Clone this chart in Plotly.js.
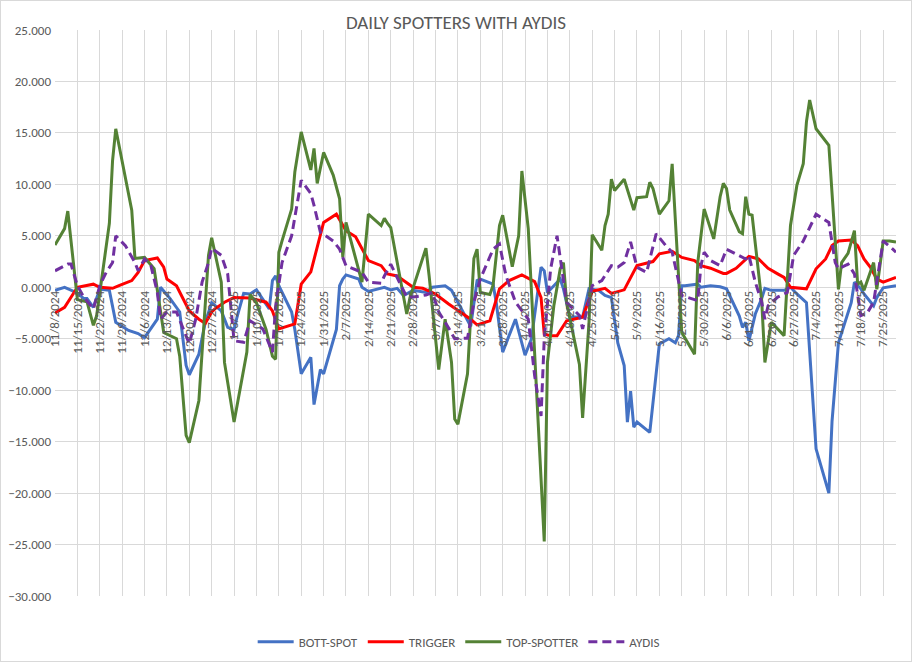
<!DOCTYPE html>
<html><head><meta charset="utf-8">
<script src="https://cdn.plot.ly/plotly-3.0.1.min.js"></script>
<style>html,body{margin:0;padding:0;background:#fff}#chart{width:912px;height:662px;box-sizing:border-box;border:1px solid #d9d9d9}</style>
</head><body><div id="chart"></div><script>
const seriesNames = ['BOTT-SPOT','TRIGGER','TOP-SPOTTER','AYDIS'];

const bottDates = ['2024-11-08','2024-11-11','2024-11-15','2024-11-17','2024-11-18','2024-11-20','2024-11-22','2024-11-25','2024-11-27','2024-11-28','2024-12-01','2024-12-04','2024-12-06','2024-12-10','2024-12-11','2024-12-14','2024-12-17','2024-12-19','2024-12-20','2024-12-23','2024-12-25','2024-12-27','2024-12-30','2025-01-01','2025-01-03','2025-01-04','2025-01-06','2025-01-08','2025-01-10','2025-01-14','2025-01-15','2025-01-16','2025-01-17','2025-01-21','2025-01-22','2025-01-24','2025-01-27','2025-01-28','2025-01-30','2025-01-31','2025-02-04','2025-02-05','2025-02-06','2025-02-07','2025-02-11','2025-02-12','2025-02-14','2025-02-19','2025-02-21','2025-02-23','2025-02-25','2025-02-28','2025-03-04','2025-03-06','2025-03-10','2025-03-12','2025-03-14','2025-03-18','2025-03-20','2025-03-21','2025-03-25','2025-03-26','2025-03-28','2025-04-01','2025-04-04','2025-04-06','2025-04-09','2025-04-10','2025-04-11','2025-04-15','2025-04-16','2025-04-18','2025-04-22','2025-04-23','2025-04-24','2025-04-27','2025-04-29','2025-05-01','2025-05-03','2025-05-05','2025-05-06','2025-05-07','2025-05-08','2025-05-09','2025-05-13','2025-05-16','2025-05-19','2025-05-21','2025-05-22','2025-05-23','2025-05-24','2025-05-28','2025-05-29','2025-06-01','2025-06-04','2025-06-06','2025-06-08','2025-06-10','2025-06-11','2025-06-12','2025-06-13','2025-06-15','2025-06-17','2025-06-18','2025-06-20','2025-06-24','2025-06-26','2025-06-28','2025-07-01','2025-07-02','2025-07-04','2025-07-08','2025-07-09','2025-07-11','2025-07-13','2025-07-15','2025-07-16','2025-07-18','2025-07-19','2025-07-22','2025-07-23','2025-07-25','2025-07-29'];
const bottValues = [-0.3,0.0,-0.55,-1.1,-1.1,-1.95,-0.2,-0.3,-3.4,-3.6,-4.2,-4.5,-4.9,-3.1,0.0,-1.1,-2.4,-7.6,-8.5,-6.5,-3.4,-1.5,-2.3,-3.9,-4.1,-2.8,-0.6,-0.65,-0.25,-2.1,0.65,1.1,0.15,-2.4,-4.1,-8.4,-6.8,-11.4,-8.0,-8.4,-4.1,0.15,0.8,1.2,0.8,0.0,-0.4,0.0,-0.25,-0.1,-0.8,-0.3,-0.5,0.0,0.15,-0.3,-1.5,-3.8,0.65,0.8,0.3,-1.5,-6.3,-3.1,-6.6,-5.0,1.95,1.6,-0.5,0.8,-0.15,-2.9,-2.9,-1.5,-0.15,-0.3,-0.8,-1.0,-5.4,-7.6,-13.1,-10.1,-13.6,-13.1,-14.1,-5.5,-5.0,-5.4,-4.7,0.15,0.15,0.3,0.0,0.15,0.05,-0.15,-1.5,-2.8,-3.9,-3.4,-5.2,-2.6,-1.1,-0.1,-0.3,-0.3,0.0,-0.65,-1.5,-6.3,-15.7,-20.0,-13.0,-5.4,-3.4,-1.5,0.5,-0.15,-0.65,-1.8,-1.0,-0.05,0.15];

const trigDates = ['2024-11-08','2024-11-11','2024-11-15','2024-11-17','2024-11-20','2024-11-22','2024-11-26','2024-11-28','2024-12-02','2024-12-04','2024-12-06','2024-12-10','2024-12-12','2024-12-13','2024-12-16','2024-12-20','2024-12-23','2024-12-25','2024-12-27','2024-12-28','2024-12-31','2025-01-03','2025-01-08','2025-01-13','2025-01-15','2025-01-17','2025-01-22','2025-01-24','2025-01-27','2025-01-31','2025-02-04','2025-02-07','2025-02-10','2025-02-14','2025-02-18','2025-02-20','2025-02-23','2025-02-25','2025-02-28','2025-03-03','2025-03-07','2025-03-11','2025-03-15','2025-03-18','2025-03-20','2025-03-24','2025-03-27','2025-03-30','2025-04-03','2025-04-07','2025-04-09','2025-04-10','2025-04-12','2025-04-14','2025-04-17','2025-04-19','2025-04-22','2025-04-25','2025-04-29','2025-05-01','2025-05-05','2025-05-09','2025-05-14','2025-05-16','2025-05-20','2025-05-23','2025-05-27','2025-05-29','2025-06-01','2025-06-05','2025-06-06','2025-06-09','2025-06-13','2025-06-16','2025-06-19','2025-06-22','2025-06-24','2025-06-26','2025-07-01','2025-07-04','2025-07-07','2025-07-09','2025-07-11','2025-07-15','2025-07-17','2025-07-19','2025-07-21','2025-07-23','2025-07-25','2025-07-29'];
const trigValues = [-2.5,-1.95,0.0,0.15,0.3,0.0,-0.1,0.15,0.65,1.45,2.6,2.85,1.95,0.8,0.15,-2.3,-3.1,-3.5,-2.4,-2.1,-1.45,-1.0,-1.05,-1.45,-2.3,-4.05,-3.55,0.3,1.5,6.3,7.1,5.5,4.9,2.6,2.1,1.3,1.1,0.65,0.0,-0.1,-0.65,-1.6,-2.5,-3.1,-3.65,-3.25,-0.15,0.65,1.2,0.55,-1.0,-4.55,-4.7,-4.7,-3.25,-3.1,-2.9,-0.4,-0.1,-0.6,-0.25,2.1,2.5,3.25,3.5,2.9,2.6,2.1,1.85,1.35,1.35,1.85,3.0,2.75,1.85,1.3,0.95,0.0,-0.15,1.8,2.75,4.05,4.5,4.6,4.05,2.75,1.95,0.8,0.5,0.95];

const topDates = ['2024-11-08','2024-11-11','2024-11-12','2024-11-15','2024-11-18','2024-11-20','2024-11-21','2024-11-25','2024-11-26','2024-11-27','2024-12-02','2024-12-03','2024-12-06','2024-12-09','2024-12-12','2024-12-16','2024-12-17','2024-12-19','2024-12-20','2024-12-23','2024-12-26','2024-12-27','2024-12-30','2024-12-31','2025-01-03','2025-01-07','2025-01-08','2025-01-10','2025-01-13','2025-01-15','2025-01-16','2025-01-17','2025-01-18','2025-01-21','2025-01-22','2025-01-24','2025-01-27','2025-01-28','2025-01-29','2025-01-31','2025-02-03','2025-02-05','2025-02-06','2025-02-07','2025-02-12','2025-02-14','2025-02-18','2025-02-19','2025-02-20','2025-02-21','2025-02-26','2025-02-27','2025-03-04','2025-03-05','2025-03-08','2025-03-10','2025-03-12','2025-03-13','2025-03-14','2025-03-17','2025-03-19','2025-03-20','2025-03-21','2025-03-24','2025-03-25','2025-03-27','2025-03-28','2025-03-31','2025-04-02','2025-04-03','2025-04-05','2025-04-10','2025-04-11','2025-04-13','2025-04-15','2025-04-16','2025-04-17','2025-04-21','2025-04-22','2025-04-24','2025-04-25','2025-04-28','2025-04-29','2025-04-30','2025-05-01','2025-05-02','2025-05-05','2025-05-08','2025-05-09','2025-05-12','2025-05-13','2025-05-14','2025-05-16','2025-05-19','2025-05-20','2025-05-23','2025-05-27','2025-05-28','2025-05-30','2025-06-01','2025-06-02','2025-06-04','2025-06-05','2025-06-06','2025-06-07','2025-06-10','2025-06-11','2025-06-12','2025-06-13','2025-06-14','2025-06-17','2025-06-18','2025-06-20','2025-06-24','2025-06-26','2025-06-28','2025-06-30','2025-07-01','2025-07-02','2025-07-04','2025-07-08','2025-07-11','2025-07-12','2025-07-14','2025-07-16','2025-07-17','2025-07-18','2025-07-19','2025-07-22','2025-07-23','2025-07-25','2025-07-27','2025-07-29'];
const topValues = [4.1,5.7,7.4,-1.2,-1.4,-3.7,-2.8,6.2,12.3,15.4,7.5,2.8,2.9,1.8,-4.4,-5.0,-6.7,-14.4,-15.1,-11.0,3.1,4.8,0.5,-7.3,-13.1,-6.3,-0.7,-1.5,-4.1,-6.7,-7.0,3.4,4.5,7.6,11.2,15.1,11.4,13.5,10.1,13.1,10.9,8.6,2.9,6.3,0.5,7.1,6.0,6.7,6.2,5.8,-2.6,-1.0,3.8,1.1,-8.0,-3.1,-7.3,-12.8,-13.3,-8.4,2.8,3.7,-0.5,-0.7,0.2,6.0,7.0,2.0,5.0,11.3,5.7,-24.7,-7.3,-1.8,1.8,2.4,-1.5,-7.5,-12.7,-3.4,5.1,3.6,6.0,7.1,10.5,9.4,10.5,7.5,8.7,8.8,10.2,9.6,7.1,8.4,12.0,-4.4,-6.5,2.4,7.6,5.8,4.7,8.8,10.1,9.6,7.5,5.4,5.2,8.8,7.1,7.0,-1.3,-7.3,-3.4,-4.7,6.0,9.9,12.0,16.1,18.2,15.4,13.8,-0.2,2.4,3.3,5.5,0.3,0.5,-0.3,2.4,-0.2,4.5,4.5,4.4];

const aydisDates = ['2024-11-08','2024-11-12','2024-11-13','2024-11-15','2024-11-17','2024-11-20','2024-11-22','2024-11-24','2024-11-26','2024-11-27','2024-11-30','2024-12-03','2024-12-04','2024-12-06','2024-12-08','2024-12-10','2024-12-11','2024-12-13','2024-12-16','2024-12-18','2024-12-20','2024-12-22','2024-12-24','2024-12-26','2024-12-27','2024-12-30','2025-01-01','2025-01-03','2025-01-06','2025-01-08','2025-01-12','2025-01-15','2025-01-16','2025-01-18','2025-01-21','2025-01-24','2025-01-27','2025-01-28','2025-01-30','2025-02-03','2025-02-05','2025-02-07','2025-02-12','2025-02-14','2025-02-18','2025-02-19','2025-02-21','2025-02-24','2025-02-26','2025-02-28','2025-03-04','2025-03-06','2025-03-08','2025-03-11','2025-03-13','2025-03-17','2025-03-19','2025-03-21','2025-03-25','2025-03-27','2025-03-29','2025-04-01','2025-04-05','2025-04-07','2025-04-09','2025-04-10','2025-04-12','2025-04-14','2025-04-17','2025-04-21','2025-04-22','2025-04-25','2025-04-28','2025-05-01','2025-05-03','2025-05-05','2025-05-07','2025-05-09','2025-05-12','2025-05-15','2025-05-18','2025-05-20','2025-05-22','2025-05-23','2025-05-28','2025-05-29','2025-05-30','2025-06-01','2025-06-04','2025-06-06','2025-06-12','2025-06-13','2025-06-15','2025-06-17','2025-06-18','2025-06-19','2025-06-22','2025-06-25','2025-06-27','2025-06-30','2025-07-04','2025-07-08','2025-07-10','2025-07-11','2025-07-14','2025-07-16','2025-07-18','2025-07-20','2025-07-22','2025-07-23','2025-07-25','2025-07-28','2025-07-29'];
const aydisValues = [1.6,2.25,2.25,0.15,-0.95,-2.1,0.15,1.45,2.4,5.0,4.05,2.4,1.6,2.75,2.1,-0.5,-3.1,-2.4,-2.4,-4.05,-5.5,-3.1,0.5,2.4,3.8,3.1,1.3,-5.2,-5.35,-3.25,-4.05,-6.3,-1.8,2.4,5.0,10.4,9.1,7.95,5.35,4.5,3.7,2.1,1.45,0.5,0.4,1.1,2.25,0.3,-0.95,-0.95,-0.75,-0.5,-2.4,-3.9,-5.0,-4.95,-1.45,0.8,3.7,4.2,1.15,-1.45,-3.1,-8.6,-12.5,-5.0,1.8,5.0,-1.45,-2.75,-4.05,0.15,0.65,2.1,1.95,2.4,4.4,1.95,1.45,5.2,4.05,3.4,0.5,-0.8,-1.3,2.1,3.4,2.6,2.1,3.7,2.75,3.1,0.5,-1.45,-3.1,-1.8,-0.95,-0.5,3.1,4.5,7.1,6.3,2.4,1.8,2.25,1.3,-2.75,-2.5,-1.45,0.5,4.5,3.7,3.4];

const seriesColors = ['#4472c4','#ff0000','#548235','#7030a0'];
const yTickRange = [-30, 25];
const xRange = ['2024-11-08','2025-07-29'];

const allDates = [bottDates, trigDates, topDates, aydisDates];
const allValues = [bottValues, trigValues, topValues, aydisValues];

const traces = seriesNames.map((name, i) => ({
  type: 'scatter', mode: 'lines', name: name,
  x: allDates[i], y: allValues[i],
  line: {color: seriesColors[i], width: 3, dash: i === 3 ? '9px,5px' : 'solid'},
  hoverinfo: 'x+y'
}));

const textColor = '#595959';
const fontFam = 'Liberation Sans Narrow, Carlito, Liberation Sans, Arial, sans-serif';
const tickFont = {family: fontFam, size: 13, color: textColor};

const layout = {
  width: 910, height: 660,
  margin: {l: 54, r: 15, t: 29, b: 65, autoexpand: false},
  paper_bgcolor: '#ffffff', plot_bgcolor: '#ffffff',
  title: {text: 'DAILY SPOTTERS WITH AYDIS', x: 0.5, xref: 'container', xanchor: 'center', y: 0.968, yref: 'container', yanchor: 'middle',
    font: {family: fontFam, size: 19, color: textColor}},
  showlegend: true,
  legend: {orientation: 'h', x: 0.48, xanchor: 'center', y: -0.081, yanchor: 'middle', font: {family: fontFam, size: 13, color: textColor}, traceorder: 'normal', itemwidth: 36},
  xaxis: {
    type: 'date', range: xRange, tick0: '2024-11-08', dtick: 7 * 86400000,
    tickformat: '%-m/%-d/%Y', tickangle: -90, tickfont: tickFont,
    anchor: 'free', position: 30 / 55,
    showgrid: true, gridcolor: '#d9d9d9', gridwidth: 1,
    showline: false, zeroline: false, ticks: '', fixedrange: true
  },
  yaxis: {
    range: yTickRange, dtick: 5, tick0: 0, tickformat: '.3f', tickfont: tickFont,
    showgrid: true, gridcolor: '#d9d9d9', gridwidth: 1,
    zeroline: true, zerolinecolor: '#d9d9d9', zerolinewidth: 1,
    showline: false, ticks: '', ticklabelstandoff: 3, fixedrange: true
  },
  hovermode: false
};

Plotly.newPlot('chart', traces, layout, {displayModeBar: false, staticPlot: true});
</script></body></html>
